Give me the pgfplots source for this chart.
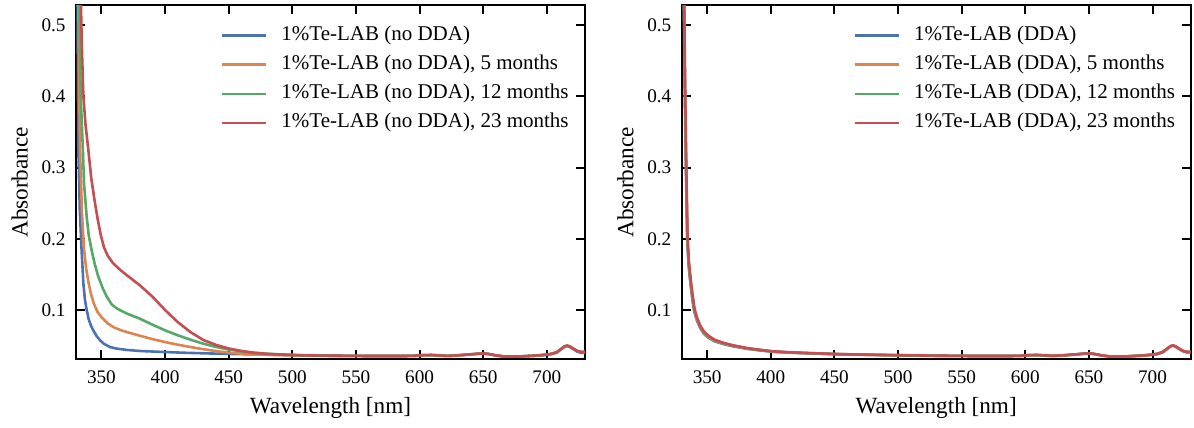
\documentclass[border=0pt]{standalone}
\usepackage{fontspec}
\setmainfont{Liberation Serif}
\usepackage{pgfplots}
\pgfplotsset{compat=1.18}
\usepackage{pgfplotstable}
\definecolor{sbblue}{HTML}{4C72B0}
\definecolor{sborange}{HTML}{DD8452}
\definecolor{sbgreen}{HTML}{55A868}
\definecolor{sbred}{HTML}{C44E52}

% ---------- left panel (no DDA) ----------
\pgfplotstableread{
x y
331.0 0.600
331.8 0.330
333.0 0.240
334.4 0.184
335.8 0.1375
337.0 0.115
338.4 0.100
340.0 0.087
342.0 0.077
343.6 0.0715
346.0 0.064
348.9 0.0575
352.0 0.0525
356.7 0.0480
362.0 0.0458
369.8 0.0440
380.0 0.0425
396.0 0.0413
415.0 0.0400
435.0 0.0390
455.0 0.0382
475.0 0.0375
495.0 0.0368
510 0.0362
525 0.0359
540 0.0357
555 0.0355
570 0.0354
585 0.0354
595 0.0356
603 0.0366
609 0.0368
615 0.0362
622 0.0356
630 0.0363
640 0.0377
647 0.0388
651 0.0390
655 0.0380
660 0.0362
666 0.0349
672 0.0346
680 0.0349
690 0.0358
698 0.0368
704 0.0382
708 0.0405
711 0.0445
714 0.0485
716 0.0495
718 0.0482
721 0.0448
724 0.0415
727 0.0398
730 0.0398
}\noA
\pgfplotstableread{
x y
331.5 0.600
332.3 0.450
333.1 0.330
334.7 0.235
336.3 0.186
338.0 0.158
340.0 0.137
342.0 0.121
344.0 0.109
347.0 0.097
350.5 0.089
355.0 0.081
360.0 0.0755
366.0 0.0712
373.0 0.0675
380.0 0.0640
390.0 0.0592
400.0 0.0550
410.0 0.0513
420.0 0.0480
430.0 0.0450
440.0 0.0424
450.0 0.0402
460.0 0.0387
470.0 0.0377
485.0 0.0369
500.0 0.0365
510 0.0362
525 0.0359
540 0.0357
555 0.0355
570 0.0354
585 0.0354
595 0.0356
603 0.0366
609 0.0368
615 0.0362
622 0.0356
630 0.0363
640 0.0377
647 0.0388
651 0.0390
655 0.0380
660 0.0362
666 0.0349
672 0.0346
680 0.0349
690 0.0358
698 0.0370
704 0.0385
708 0.0410
711 0.0450
714 0.0490
716 0.0500
718 0.0488
721 0.0455
724 0.0425
727 0.0410
730 0.0412
}\noB
\pgfplotstableread{
x y
331.8 0.600
332.6 0.528
333.7 0.400
335.4 0.325
336.3 0.278
338.4 0.231
340.0 0.205
342.3 0.184
344.8 0.164
347.5 0.147
350.7 0.132
354.1 0.119
358.0 0.108
362.0 0.1023
370.0 0.0950
380.0 0.0880
390.0 0.0795
400.0 0.0715
410.0 0.0645
420.0 0.0583
430.0 0.0528
440.0 0.0482
450.0 0.0446
460.0 0.0419
470.0 0.0399
480.0 0.0386
490.0 0.0377
500.0 0.0370
510 0.0363
525 0.0359
540 0.0357
555 0.0355
570 0.0354
585 0.0354
595 0.0356
603 0.0366
609 0.0368
615 0.0362
622 0.0356
630 0.0363
640 0.0377
647 0.0388
651 0.0390
655 0.0380
660 0.0362
666 0.0349
672 0.0346
680 0.0349
690 0.0358
698 0.0370
704 0.0385
708 0.0410
711 0.0450
714 0.0490
716 0.0500
718 0.0488
721 0.0455
724 0.0425
727 0.0410
730 0.0412
}\noC
\pgfplotstableread{
x y
333.4 0.600
333.9 0.528
334.6 0.470
335.8 0.400
337.5 0.360
339.7 0.325
342.0 0.285
344.5 0.255
347.0 0.228
349.5 0.205
352.0 0.188
355.0 0.176
359.0 0.166
365.0 0.156
372.0 0.146
380.0 0.135
390.0 0.119
400.0 0.100
410.0 0.083
420.0 0.069
430.0 0.058
440.0 0.051
450.0 0.046
460.0 0.0425
470.0 0.0400
480.0 0.0385
490.0 0.0375
500.0 0.0368
510 0.0363
525 0.0359
540 0.0357
555 0.0355
570 0.0354
585 0.0354
595 0.0356
603 0.0366
609 0.0368
615 0.0362
622 0.0356
630 0.0363
640 0.0377
647 0.0388
651 0.0390
655 0.0380
660 0.0362
666 0.0349
672 0.0346
680 0.0349
690 0.0358
698 0.0370
704 0.0385
708 0.0410
711 0.0450
714 0.0490
716 0.0500
718 0.0488
721 0.0455
724 0.0425
727 0.0410
730 0.0412
}\noD

% ---------- right panel (DDA) ----------
\pgfplotstableread{
x y
331.2 0.600
331.7 0.528
332.5 0.400
333.3 0.300
334.3 0.200
335.4 0.163
337.0 0.135
338.4 0.115
339.8 0.098
342.0 0.085
344.4 0.0750
347.5 0.0665
350.9 0.0612
356.0 0.0560
362.7 0.0522
370.0 0.0492
381.0 0.0456
390.0 0.0436
402.0 0.0413
420.0 0.0398
450.0 0.0380
475.0 0.0371
500.0 0.0364
525 0.0359
540 0.0357
555 0.0355
570 0.0354
585 0.0354
595 0.0356
603 0.0366
609 0.0368
615 0.0362
622 0.0356
630 0.0363
640 0.0377
647 0.0388
651 0.0390
655 0.0380
660 0.0362
666 0.0348
672 0.0343
680 0.0349
690 0.0358
698 0.0368
704 0.0382
708 0.0405
711 0.0448
714 0.0490
716 0.0500
718 0.0488
721 0.0452
724 0.0420
727 0.0405
730 0.0405
}\ddA
\pgfplotstableread{
x y
331.3 0.600
331.8 0.528
332.6 0.400
333.4 0.301
334.4 0.200
335.5 0.164
337.1 0.136
338.5 0.116
339.9 0.099
342.0 0.086
344.4 0.0758
347.5 0.0672
350.9 0.0619
356.0 0.0566
362.7 0.0528
370.0 0.0497
381.0 0.0460
390.0 0.0439
402.0 0.0415
420.0 0.0399
450.0 0.0381
475.0 0.0372
500.0 0.0365
525 0.0359
540 0.0357
555 0.0355
570 0.0354
585 0.0354
595 0.0356
603 0.0366
609 0.0368
615 0.0362
622 0.0356
630 0.0363
640 0.0377
647 0.0388
651 0.0390
655 0.0380
660 0.0362
666 0.0349
672 0.0346
680 0.0349
690 0.0358
698 0.0370
704 0.0385
708 0.0410
711 0.0450
714 0.0490
716 0.0502
718 0.0490
721 0.0455
724 0.0425
727 0.0410
730 0.0412
}\ddB
\pgfplotstableread{
x y
331.4 0.600
331.9 0.528
332.7 0.400
333.5 0.302
334.5 0.201
335.6 0.166
337.2 0.138
338.6 0.118
340.0 0.1005
342.1 0.0875
344.5 0.0770
347.6 0.0682
351.0 0.0630
356.0 0.0574
362.7 0.0535
370.0 0.0502
381.0 0.0464
390.0 0.0442
402.0 0.0417
420.0 0.0401
450.0 0.0382
475.0 0.0372
500.0 0.0365
525 0.0359
540 0.0357
555 0.0355
570 0.0354
585 0.0354
595 0.0356
603 0.0366
609 0.0368
615 0.0362
622 0.0356
630 0.0363
640 0.0377
647 0.0388
651 0.0390
655 0.0380
660 0.0362
666 0.0349
672 0.0346
680 0.0349
690 0.0358
698 0.0370
704 0.0385
708 0.0410
711 0.0450
714 0.0490
716 0.0502
718 0.0490
721 0.0455
724 0.0425
727 0.0410
730 0.0412
}\ddC
\pgfplotstableread{
x y
331.5 0.600
332.0 0.528
332.8 0.400
333.6 0.303
334.6 0.202
335.7 0.167
337.3 0.139
338.7 0.119
340.1 0.1015
342.2 0.0885
344.6 0.0780
347.7 0.0692
351.1 0.0638
356.0 0.0582
362.7 0.0540
370.0 0.0506
381.0 0.0467
390.0 0.0445
402.0 0.0419
420.0 0.0402
450.0 0.0383
475.0 0.0373
500.0 0.0366
525 0.0360
540 0.0357
555 0.0355
570 0.0354
585 0.0354
595 0.0356
603 0.0366
609 0.0369
615 0.0363
622 0.0357
630 0.0364
640 0.0378
647 0.0389
651 0.0391
655 0.0381
660 0.0363
666 0.0350
672 0.0347
680 0.0350
690 0.0359
698 0.0371
704 0.0386
708 0.0411
711 0.0451
714 0.0491
716 0.0503
718 0.0491
721 0.0456
724 0.0426
727 0.0411
730 0.0413
}\ddD

\pgfplotsset{
  panel/.style={
    scale only axis, width=254.5pt, height=177pt,
    xmin=330, xmax=730, ymin=0.0308, ymax=0.528,
    xtick={350,400,...,700}, ytick={0.1,0.2,0.3,0.4,0.5},
    tick align=inside, major tick length=4.5pt,
    every tick/.style={black, line width=1pt},
    axis line style={line width=1.1pt},
    /pgf/number format/assume math mode=true,
    yticklabel style={/pgf/number format/fixed, /pgf/number format/fixed zerofill, /pgf/number format/precision=1},
    xticklabel style={/pgf/number format/fixed, /pgf/number format/precision=0, /pgf/number format/set thousands separator={}},
    ticklabel style={font=\fontsize{9.6}{11}\selectfont, inner sep=0pt},
    yticklabel style={anchor=east, xshift=-5pt},
    xticklabel style={anchor=base, yshift=-12pt},
    xlabel={Wavelength [nm]}, ylabel={Absorbance},
    label style={font=\fontsize{11.6}{13}\selectfont, inner sep=0pt},
    xlabel style={at={([yshift=-26.85pt]axis description cs:0.5,0)}, anchor=base},
    ylabel style={at={([xshift=-24.2pt]axis description cs:0,0.5)}, anchor=base},
    legend cell align=left,
    legend style={draw=none, fill=none, inner sep=0pt, outer sep=0pt,
      font=\fontsize{10.5}{12}\selectfont,
      nodes={inner sep=0pt, text height=7pt, text depth=2.5pt},
      row sep=5.1pt, column sep=7pt, anchor=north west},
    legend image code/.code={\draw[##1] (0pt,0pt) -- (22pt,0pt);},
    every axis plot/.append style={line width=1.3pt, no markers},
  }
}

\begin{document}
\begin{tikzpicture}
\path[use as bounding box] (-38pt,-34.35pt) rectangle (559pt,179.65pt);
\begin{axis}[panel, legend style={at={(0.2845,0.9415)}}]
\addplot[sbblue] table[x=x,y=y] {\noA};
\addlegendentry{1\%Te-LAB (no DDA)}
\addplot[sborange] table[x=x,y=y] {\noB};
\addlegendentry{1\%Te-LAB (no DDA), 5 months}
\addplot[sbgreen] table[x=x,y=y] {\noC};
\addlegendentry{1\%Te-LAB (no DDA), 12 months}
\addplot[sbred] table[x=x,y=y] {\noD};
\addlegendentry{1\%Te-LAB (no DDA), 23 months}
\end{axis}
\begin{axis}[panel, xshift=302.85pt, legend style={at={(0.3375,0.9415)}}]
\addplot[sbblue] table[x=x,y=y] {\ddA};
\addlegendentry{1\%Te-LAB (DDA)}
\addplot[sborange] table[x=x,y=y] {\ddB};
\addlegendentry{1\%Te-LAB (DDA), 5 months}
\addplot[sbgreen] table[x=x,y=y] {\ddC};
\addlegendentry{1\%Te-LAB (DDA), 12 months}
\addplot[sbred] table[x=x,y=y] {\ddD};
\addlegendentry{1\%Te-LAB (DDA), 23 months}
\end{axis}
\end{tikzpicture}
\end{document}
